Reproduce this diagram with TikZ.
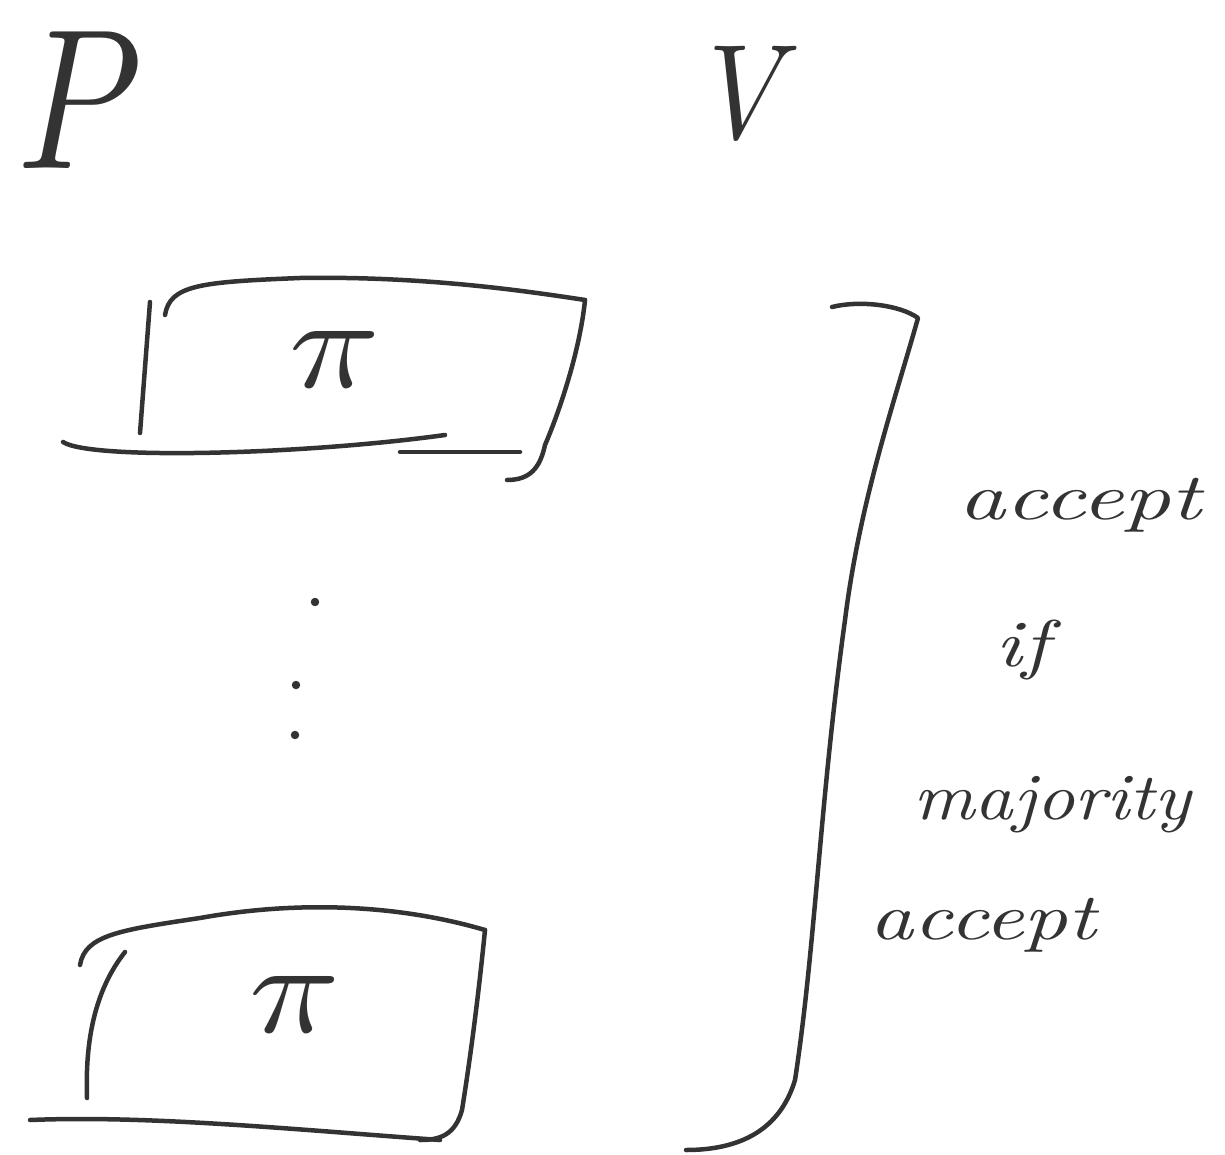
\documentclass[tikz,border=0pt]{standalone}
\begin{document}
\begin{tikzpicture}[x=1pt,y=-1pt,
  pen/.style={draw=black!80,line width=4.5pt,line cap=round,line join=round},
  lbl/.style={text=black!80,anchor=center,inner sep=0pt},
  mathlbl/.style={text=black!80,inner sep=0pt},
  dot/.style={circle,fill=black!80,inner sep=3pt}]
\useasboundingbox (0,0) rectangle (1225,1155);
% labels P and V
\node[mathlbl] (P) at (80,100) {\scalebox{16}[20]{$P$}};
\node[mathlbl] (V) at (755,92) {\scalebox{11.5}[13.5]{$V$}};
% top box
\draw[pen] (150,302) -- (140,433);
\draw[pen] (165,315) .. controls (170,285) and (200,282) .. (300,278) .. controls (420,276) and (520,290) .. (585,300);
\draw[pen] (585,300) .. controls (580,350) and (560,410) .. (545,445) .. controls (540,468) and (530,480) .. (507,480);
\draw[pen] (63,442) .. controls (90,460) and (300,455) .. (445,435);
\draw[pen] (400,452) -- (520,452);
\node[mathlbl] (pi1) at (335,360) {\scalebox{15}[13]{$\pi$}};
% dots
\node[dot] (d1) at (315,602) {};
\node[dot] (d2) at (296,685) {};
\node[dot] (d3) at (295,735) {};
% bottom box
\draw[pen] (125,952) .. controls (95,990) and (85,1040) .. (87,1098);
\draw[pen] (80,965) .. controls (85,935) and (120,930) .. (200,918) .. controls (300,900) and (400,905) .. (485,930);
\draw[pen] (485,930) .. controls (478,1000) and (470,1060) .. (462,1110) .. controls (455,1135) and (440,1140) .. (420,1140);
\draw[pen] (30,1120) .. controls (150,1115) and (300,1130) .. (440,1140);
\node[mathlbl] (pi2) at (295,1005) {\scalebox{15}[13]{$\pi$}};
% bracket
\draw[pen] (832,307) .. controls (860,300) and (900,305) .. (918,318)
  .. controls (895,400) and (860,500) .. (845,620)
  .. controls (820,800) and (815,950) .. (795,1080)
  .. controls (780,1130) and (740,1150) .. (686,1150);
% text
\node[lbl] (t1) at (1080,505) {\scalebox{9.2}[6.6]{\itshape accept}};
\node[lbl] (t2) at (1022,650) {\scalebox{8.6}[6.6]{\itshape if}};
\node[lbl] (t3) at (1052,805) {\scalebox{7.5}[6.6]{\itshape majority}};
\node[lbl] (t4) at (983,925) {\scalebox{8.6}[6.6]{\itshape accept}};
\end{tikzpicture}
\end{document}
